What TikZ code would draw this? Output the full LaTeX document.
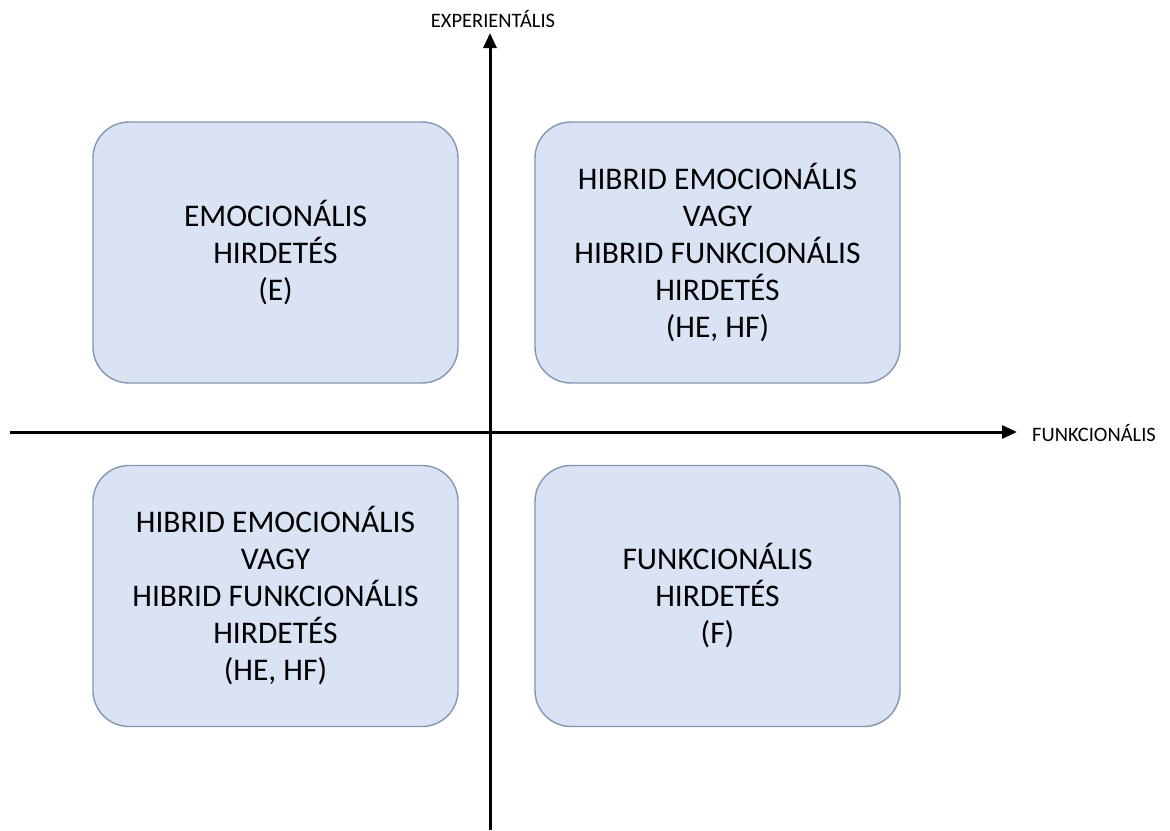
\documentclass[tikz,border=0pt]{standalone}
\usepackage{fontspec}
\setmainfont{Carlito}
\usetikzlibrary{arrows.meta}
\definecolor{boxfill}{HTML}{DAE3F3}
\definecolor{boxline}{HTML}{8596B2}
\begin{document}
\begin{tikzpicture}[x=1pt,y=-1pt,
  quadrant/.style={draw=boxline, fill=boxfill, line width=1.4pt,
    rounded corners=36pt, minimum width=365pt, minimum height=261pt,
    align=center, inner sep=0pt,
    font=\fontsize{31.5}{37}\selectfont},
  axis/.style={line width=3pt, -{Triangle[length=15pt,width=13pt]}},
  axislabel/.style={font=\fontsize{20.5}{22}\selectfont, inner sep=0pt}]
\useasboundingbox (0,0) rectangle (1170,830);
% four quadrant boxes
\node[quadrant] (e)  at (275.5,252.5) {EMOCIONÁLIS\\HIRDETÉS\\(E)};
\node[quadrant] (h1) at (717.5,252.5) {HIBRID EMOCIONÁLIS\\VAGY\\HIBRID FUNKCIONÁLIS\\HIRDETÉS\\(HE, HF)};
\node[quadrant] (h2) at (275.5,596) {HIBRID EMOCIONÁLIS\\VAGY\\HIBRID FUNKCIONÁLIS\\HIRDETÉS\\(HE, HF)};
\node[quadrant] (f)  at (717.5,596) {FUNKCIONÁLIS\\HIRDETÉS\\(F)};
% axes
\coordinate (vbot) at (490,830);
\coordinate (vtop) at (490,33);
\coordinate (hleft) at (10,432);
\coordinate (hright) at (1017,432);
\draw[axis] (vbot) -- (vtop);
\draw[axis] (hleft) -- (hright);
\node[axislabel] (ylab) at (493,19) {EXPERIENTÁLIS};
\node[axislabel, anchor=west] (xlab) at (1032,433) {FUNKCIONÁLIS};
\end{tikzpicture}
\end{document}
